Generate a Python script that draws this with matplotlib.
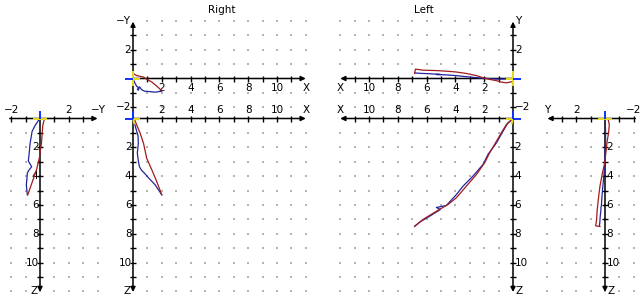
import matplotlib
matplotlib.use('Agg')
import matplotlib.pyplot as plt

# Right hand path (X, -Y, Z)
right_red_x = [0.10, 0.26, 0.50, 0.73, 0.95, 1.30, 1.64, 2.00]
right_red_my = [0.30, 0.20, 0.15, 0.10, -0.05, -0.24, -0.52, -0.85]
right_red_z = [0.05, 0.45, 1.03, 1.72, 2.76, 3.55, 4.36, 5.30]

right_blue_x = [0.02, 0.15, 0.26, 0.35, 0.37, 0.30, 0.37, 0.45, 0.60, 0.80, 1.06, 1.53, 2.00]
right_blue_my = [-0.05, -0.35, -0.55, -0.60, -0.69, -0.75, -0.81, -0.58, -0.78, -0.88, -0.90, -0.95, -0.88]
right_blue_z = [0.05, 0.50, 0.90, 1.20, 1.75, 2.40, 2.95, 3.35, 3.60, 3.80, 4.10, 4.60, 5.30]

# Left hand path (X, Y, Z)
left_red_x = [0.11, 0.46, 0.81, 1.15, 1.62, 1.97, 2.54, 3.24, 3.93, 4.51, 5.32, 6.25, 6.78, 6.83]
left_red_y = [-0.23, -0.30, -0.25, -0.15, -0.06, 0.02, 0.20, 0.35, 0.45, 0.50, 0.55, 0.58, 0.65, 0.35]
left_red_z = [0.12, 0.42, 0.99, 1.58, 2.38, 3.08, 3.89, 4.70, 5.50, 5.97, 6.44, 7.01, 7.45, 7.50]

left_blue_x = [0.00, 0.35, 0.69, 1.15, 1.74, 2.08, 2.78, 3.47, 3.93, 4.63, 5.32, 5.04, 5.78, 6.48, 6.83]
left_blue_y = [0.00, -0.02, -0.04, -0.04, 0.00, 0.02, 0.08, 0.15, 0.20, 0.25, 0.28, 0.28, 0.33, 0.36, 0.39]
left_blue_z = [0.00, 0.30, 0.88, 1.69, 2.50, 3.19, 4.00, 4.70, 5.28, 6.04, 6.18, 6.32, 6.78, 7.20, 7.48]

# axis tick labels
long_labels = [2, 4, 6, 8, 10]
short_labels = [-2, 2]

RED = '#a01c1c'
BLUE = '#2424a0'
FS = 7.5
S = 14.4          # pixels per unit
W, H = 644, 304

fig = plt.figure(figsize=(W / 100, H / 100), dpi=100)
fig.patch.set_facecolor('white')


def panel(ox, oy, hflip, vdown, hr, vr):
    lo, hi = hr
    vlo, vhi = vr
    left = ox - hi * S if hflip else ox + lo * S
    bottom = oy + vhi * S if vdown else oy - vlo * S
    ax = fig.add_axes([left / W, 1 - bottom / H, (hi - lo) * S / W, (vhi - vlo) * S / H])
    ax.set_xlim((hi, lo) if hflip else (lo, hi))
    ax.set_ylim((vhi, vlo) if vdown else (vlo, vhi))
    ax.axis('off')
    return ax


def fmt(v):
    return str(v).replace('-', '\u2212')


def dots(ax, hs, vs):
    px = [h for h in hs for v in vs]
    py = [v for h in hs for v in vs]
    ax.scatter(px, py, s=1.2, marker='s', color='#b4b4b4', linewidths=0, clip_on=False)


def haxis(ax, start, tip, ticks):
    ax.annotate('', xy=(tip, 0), xytext=(start, 0), annotation_clip=False,
                arrowprops=dict(arrowstyle='-|>', color='black', lw=1.1,
                                mutation_scale=7, shrinkA=0, shrinkB=0))
    ax.plot(list(ticks), [0] * len(ticks), ls='none', marker='|', ms=5, mew=1,
            color='black', clip_on=False)


def vaxis(ax, start, tip, ticks):
    ax.annotate('', xy=(0, tip), xytext=(0, start), annotation_clip=False,
                arrowprops=dict(arrowstyle='-|>', color='black', lw=1.1,
                                mutation_scale=7, shrinkA=0, shrinkB=0))
    ax.plot([0] * len(ticks), list(ticks), ls='none', marker='_', ms=5, mew=1,
            color='black', clip_on=False)


def label(ax, text, x, y, dx, dy, ha='center'):
    # dx, dy in pixels
    ax.annotate(text, xy=(x, y), xytext=(dx * 0.72, dy * 0.72), textcoords='offset points',
                ha=ha, va='center', fontsize=FS, annotation_clip=False)


YEL = '#e8dc20'
CB = '#1030ff'


def seg(ax, xs, ys, c):
    ax.plot(xs, ys, color=c, lw=1.4, clip_on=False, zorder=6, solid_capstyle='butt')


def origin_xz(ax):
    seg(ax, [0, 0.5], [0, 0], YEL)
    seg(ax, [0, 0.1], [0, 0.4], YEL)
    seg(ax, [-0.55, 0], [0, 0], CB)
    seg(ax, [0, 0], [-0.55, 0], CB)


def origin_xy(ax):
    seg(ax, [0, 0], [-0.5, 0.5], YEL)
    seg(ax, [0, 0.5], [0, 0], YEL)
    seg(ax, [-0.55, 0], [0, 0], CB)


def origin_yz(ax):
    seg(ax, [-0.5, 0.5], [0, 0], YEL)
    seg(ax, [0, 0], [-0.55, 0], CB)


# ---------------- Right side ----------------
# side view: -Y across, Z down
ax1 = panel(40, 118.5, False, True, (-2.3, 4.3), (-0.8, 12.3))
dots(ax1, range(-2, 5), range(1, 13))
haxis(ax1, -2.1, 4.0, [-2, -1, 1, 2, 3])
vaxis(ax1, 0, 12.05, range(1, 12))
for v in short_labels:
    label(ax1, fmt(v), v, 0, 0, 8.5)
label(ax1, '\u2212Y', 4.0, 0, 1, 8.5)
for v in long_labels:
    label(ax1, str(v), 0, v, -1.5, 0, 'right')
label(ax1, 'Z', 0, 12.05, -2, 1, 'right')
origin_yz(ax1)
ax1.plot(right_blue_my, right_blue_z, color=BLUE, lw=0.9, zorder=5)
ax1.plot(right_red_my, right_red_z, color=RED, lw=0.9, zorder=5)

# top view: X across, -Y up
ax2 = panel(133, 78.5, False, False, (-0.8, 12.3), (-2.9, 4.1))
dots(ax2, range(1, 13), [-2, -1, 1, 2, 3, 4])
haxis(ax2, 0, 12.0, range(1, 12))
vaxis(ax2, -2.75, 3.95, [-2, -1, 1, 2, 3])
for v in long_labels:
    label(ax2, str(v), v, 0, 0, -9.5)
label(ax2, 'X', 12.0, 0, 0, -9.5)
for v in short_labels:
    label(ax2, fmt(v), 0, v, -2, 0, 'right')
label(ax2, '\u2212Y', 0, 3.95, -2, 1, 'right')
origin_xy(ax2)
ax2.plot(right_blue_x, right_blue_my, color=BLUE, lw=0.9, zorder=5)
ax2.plot(right_red_x, right_red_my, color=RED, lw=0.9, zorder=5)

# front view: X across, Z down
ax3 = panel(133, 118.5, False, True, (-0.8, 12.3), (-0.8, 12.3))
dots(ax3, range(1, 13), range(1, 13))
haxis(ax3, 0, 12.0, range(1, 12))
vaxis(ax3, 0, 12.05, range(1, 12))
for v in long_labels:
    label(ax3, str(v), v, 0, 0, 8.5)
label(ax3, 'X', 12.0, 0, 0, 8.5)
for v in long_labels:
    label(ax3, str(v), 0, v, -1.5, 0, 'right')
label(ax3, 'Z', 0, 12.05, -2, 1, 'right')
origin_xz(ax3)
ax3.plot(right_blue_x, right_blue_z, color=BLUE, lw=0.9, zorder=5)
ax3.plot(right_red_x, right_red_z, color=RED, lw=0.9, zorder=5)

# ---------------- Left side ----------------
# top view: X to the left, Y up
ax4 = panel(513, 78.5, True, False, (-0.8, 12.3), (-2.9, 4.1))
dots(ax4, range(1, 13), [-2, -1, 1, 2, 3, 4])
haxis(ax4, 0, 12.0, range(1, 12))
vaxis(ax4, -2.75, 3.95, [-2, -1, 1, 2, 3])
for v in long_labels:
    label(ax4, str(v), v, 0, 0, -9.5)
label(ax4, 'X', 12.0, 0, 0, -9.5)
for v in short_labels:
    label(ax4, fmt(v), 0, v, 2, 0, 'left')
label(ax4, 'Y', 0, 3.95, 2, 1, 'left')
origin_xy(ax4)
ax4.plot(left_blue_x, left_blue_y, color=BLUE, lw=0.9, zorder=5)
ax4.plot(left_red_x, left_red_y, color=RED, lw=0.9, zorder=5)

# front view: X to the left, Z down
ax5 = panel(513, 118.5, True, True, (-0.8, 12.3), (-0.8, 12.3))
dots(ax5, range(1, 13), range(1, 13))
haxis(ax5, 0, 12.0, range(1, 12))
vaxis(ax5, 0, 12.05, range(1, 12))
for v in long_labels:
    label(ax5, str(v), v, 0, 0, 8.5)
label(ax5, 'X', 12.0, 0, 0, 8.5)
for v in long_labels:
    label(ax5, str(v), 0, v, 1.5, 0, 'left')
label(ax5, 'Z', 0, 12.05, 2, 1, 'left')
origin_xz(ax5)
ax5.plot(left_blue_x, left_blue_z, color=BLUE, lw=0.9, zorder=5)
ax5.plot(left_red_x, left_red_z, color=RED, lw=0.9, zorder=5)

# side view: Y to the left, Z down
ax6 = panel(605, 118.5, True, True, (-2.3, 4.3), (-0.8, 12.3))
dots(ax6, range(-2, 5), range(1, 13))
haxis(ax6, -2.1, 4.0, [-2, -1, 1, 2, 3])
vaxis(ax6, 0, 12.05, range(1, 12))
for v in short_labels:
    label(ax6, fmt(v), v, 0, 0, 8.5)
label(ax6, 'Y', 4.0, 0, 0, 8.5)
for v in long_labels:
    label(ax6, str(v), 0, v, 1.5, 0, 'left')
label(ax6, 'Z', 0, 12.05, 2, 1, 'left')
origin_yz(ax6)
ax6.plot(left_blue_y, left_blue_z, color=BLUE, lw=0.9, zorder=5)
ax6.plot(left_red_y, left_red_z, color=RED, lw=0.9, zorder=5)

fig.text(222 / W, 1 - 10 / H, 'Right', ha='center', va='center', fontsize=FS)
fig.text(424 / W, 1 - 10 / H, 'Left', ha='center', va='center', fontsize=FS)

fig.savefig('out.png', dpi=100)
